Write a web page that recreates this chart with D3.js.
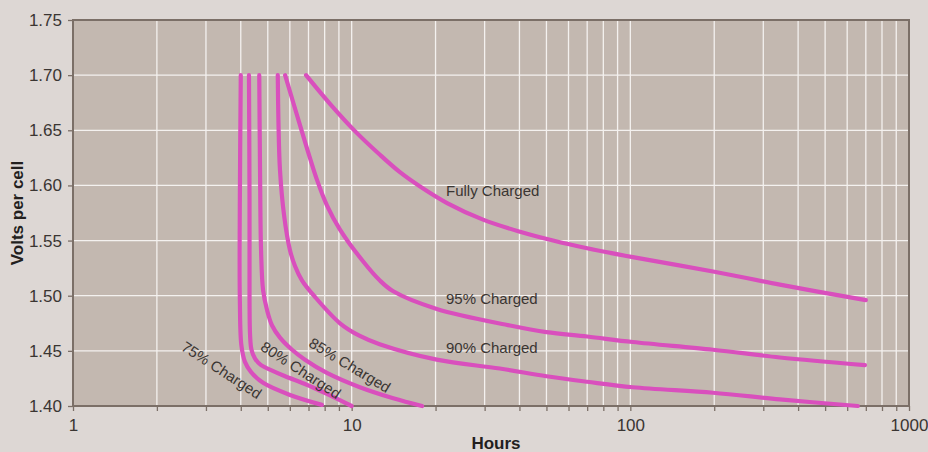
<!DOCTYPE html>
<html>
<head>
<meta charset="utf-8">
<script src="https://cdn.jsdelivr.net/npm/d3@7"></script>
<style>
  html, body { margin: 0; padding: 0; background: #ddd7d4; }
  svg { display: block; }
  text { font-family: "Liberation Sans", Arial, Helvetica, sans-serif; }
</style>
</head>
<body>
<svg id="chart" width="928" height="452"></svg>
<script>
// ---- Data (hours, volts per cell) ----
const seriesNames = ["75% Charged", "80% Charged", "85% Charged", "90% Charged", "95% Charged", "Fully Charged"];

const charged75 = [[4.0,1.70],[3.97,1.587],[3.97,1.496],[4.02,1.455],[4.14,1.440],[4.35,1.431],[4.81,1.421],[6.01,1.410],[7.82,1.401]];
const charged80 = [[4.28,1.70],[4.30,1.587],[4.30,1.496],[4.32,1.464],[4.37,1.451],[4.50,1.443],[4.73,1.437],[5.09,1.433],[5.77,1.427],[6.80,1.420],[8.15,1.411],[10.0,1.400]];
const charged85 = [[4.66,1.70],[4.69,1.614],[4.73,1.541],[4.81,1.505],[4.97,1.487],[5.18,1.473],[5.53,1.462],[6.11,1.451],[6.80,1.442],[8.15,1.430],[10.7,1.417],[14.1,1.407],[17.9,1.400]];
const charged90 = [[5.43,1.70],[5.46,1.659],[5.53,1.614],[5.72,1.573],[6.01,1.541],[6.26,1.527],[6.63,1.514],[7.38,1.499],[9.08,1.475],[10.7,1.4635],[12.6,1.456],[20.2,1.442],[34,1.434],[50,1.427],[70,1.422],[102,1.417],[198,1.412],[344,1.406],[655,1.400]];
const charged95 = [[5.77,1.70],[6.52,1.655],[7.51,1.605],[8.15,1.582],[9.08,1.560],[11.0,1.531],[12.6,1.514],[14.1,1.504],[20.2,1.488],[37,1.473],[50,1.467],[70,1.463],[102,1.458],[198,1.451],[344,1.444],[695,1.437]];
const chargedFull = [[6.86,1.70],[8.36,1.674],[10.3,1.649],[12.6,1.628],[14.9,1.612],[17.6,1.599],[22,1.584],[29.6,1.569],[40.2,1.558],[52.8,1.550],[70,1.543],[102,1.535],[198,1.522],[344,1.510],[700,1.496]];

const seriesValues = [charged75, charged80, charged85, charged90, charged95, chargedFull];

const yTicks = [1.40, 1.45, 1.50, 1.55, 1.60, 1.65, 1.70, 1.75];
const xMajorTicks = [1, 10, 100, 1000];
const xMinorTicks = [2,3,4,5,6,7,8,9,20,30,40,50,60,70,80,90,200,300,400,500,600,700,800,900];

const xTitle = "Hours";
const yTitle = "Volts per cell";

// label anchors in data units [hours, volts, rotation]
const labelAnchors = [[3.42,1.4328,33],[6.58,1.4328,33],[9.86,1.4372,31],[21.8,1.448,0],[21.8,1.4929,0],[21.8,1.5904,0]];

// ---- Chart ----
const svg = d3.select("#chart");
const W = 928, H = 452;
const m = {left: 73, right: 19, top: 20, bottom: 46};
const x = d3.scaleLog().domain([1, 1000]).range([m.left, W - m.right]);
const y = d3.scaleLinear().domain([1.40, 1.75]).range([H - m.bottom, m.top]);

const axisColor = "#7b6f67";
const textColor = "#3a3532";

svg.append("rect").attr("width", W).attr("height", H).attr("fill", "#ddd7d4");
svg.append("rect")
  .attr("x", x(1)).attr("y", y(1.75))
  .attr("width", x(1000) - x(1)).attr("height", y(1.40) - y(1.75))
  .attr("fill", "#c3b8b0");

// grid
const grid = svg.append("g");
const allX = xMinorTicks.concat([10, 100]);
grid.selectAll("line.vx").data(allX).join("line")
  .attr("x1", d => x(d)).attr("x2", d => x(d))
  .attr("y1", y(1.40)).attr("y2", y(1.75))
  .attr("stroke", "#f4f1ef").attr("stroke-width", 1.3);
grid.selectAll("line.hy").data(yTicks.slice(1, -1)).join("line")
  .attr("x1", x(1)).attr("x2", x(1000))
  .attr("y1", d => y(d)).attr("y2", d => y(d))
  .attr("stroke", "#f4f1ef").attr("stroke-width", 1.3);

// axes
const xAxis = d3.axisBottom(x)
  .tickValues(xMajorTicks.concat(xMinorTicks))
  .tickSize(5).tickPadding(8)
  .tickFormat(d => xMajorTicks.includes(d) ? String(d) : "");
const gx = svg.append("g").attr("transform", `translate(0,${y(1.40)})`).call(xAxis);
gx.select(".domain").remove();
gx.selectAll(".tick line").attr("stroke", axisColor).attr("stroke-width", 1.3);
gx.selectAll(".tick text").attr("fill", textColor).style("font-size", "17px");

const yAxis = d3.axisLeft(y).tickValues(yTicks).tickSize(5).tickPadding(6).tickFormat(d3.format(".2f"));
const gy = svg.append("g").attr("transform", `translate(${x(1)},0)`).call(yAxis);
gy.select(".domain").remove();
gy.selectAll(".tick line").attr("stroke", axisColor).attr("stroke-width", 1.3);
gy.selectAll(".tick text").attr("fill", textColor).style("font-size", "17px");

// frame
svg.append("rect")
  .attr("x", x(1)).attr("y", y(1.75))
  .attr("width", x(1000) - x(1)).attr("height", y(1.40) - y(1.75))
  .attr("fill", "none").attr("stroke", axisColor).attr("stroke-width", 2);

// curves
const line = d3.line().x(d => x(d[0])).y(d => y(d[1])).curve(d3.curveCatmullRom.alpha(0.5));
svg.append("g").selectAll("path").data(seriesValues).join("path")
  .attr("d", line)
  .attr("fill", "none")
  .attr("stroke", "#d94fbd")
  .attr("stroke-width", 4.2)
  .attr("stroke-linecap", "round")
  .attr("stroke-linejoin", "round");

// series labels
svg.append("g").selectAll("text").data(seriesNames).join("text")
  .attr("transform", (d, i) => `translate(${x(labelAnchors[i][0])},${y(labelAnchors[i][1])}) rotate(${labelAnchors[i][2]})`)
  .attr("text-anchor", (d, i) => labelAnchors[i][2] ? "middle" : "start")
  .attr("dominant-baseline", (d, i) => labelAnchors[i][2] ? "central" : "alphabetic")
  .attr("fill", textColor)
  .style("font-size", "15px")
  .text(d => d);

// titles
svg.append("text")
  .attr("x", 496).attr("y", 449)
  .attr("text-anchor", "middle")
  .attr("fill", "#231f1e")
  .style("font-size", "17px").style("font-weight", "bold")
  .text(xTitle);
svg.append("text")
  .attr("transform", `translate(23,${(y(1.40) + y(1.75)) / 2}) rotate(-90)`)
  .attr("text-anchor", "middle")
  .attr("fill", "#231f1e")
  .style("font-size", "17px").style("font-weight", "bold")
  .text(yTitle);
</script>
</body>
</html>
